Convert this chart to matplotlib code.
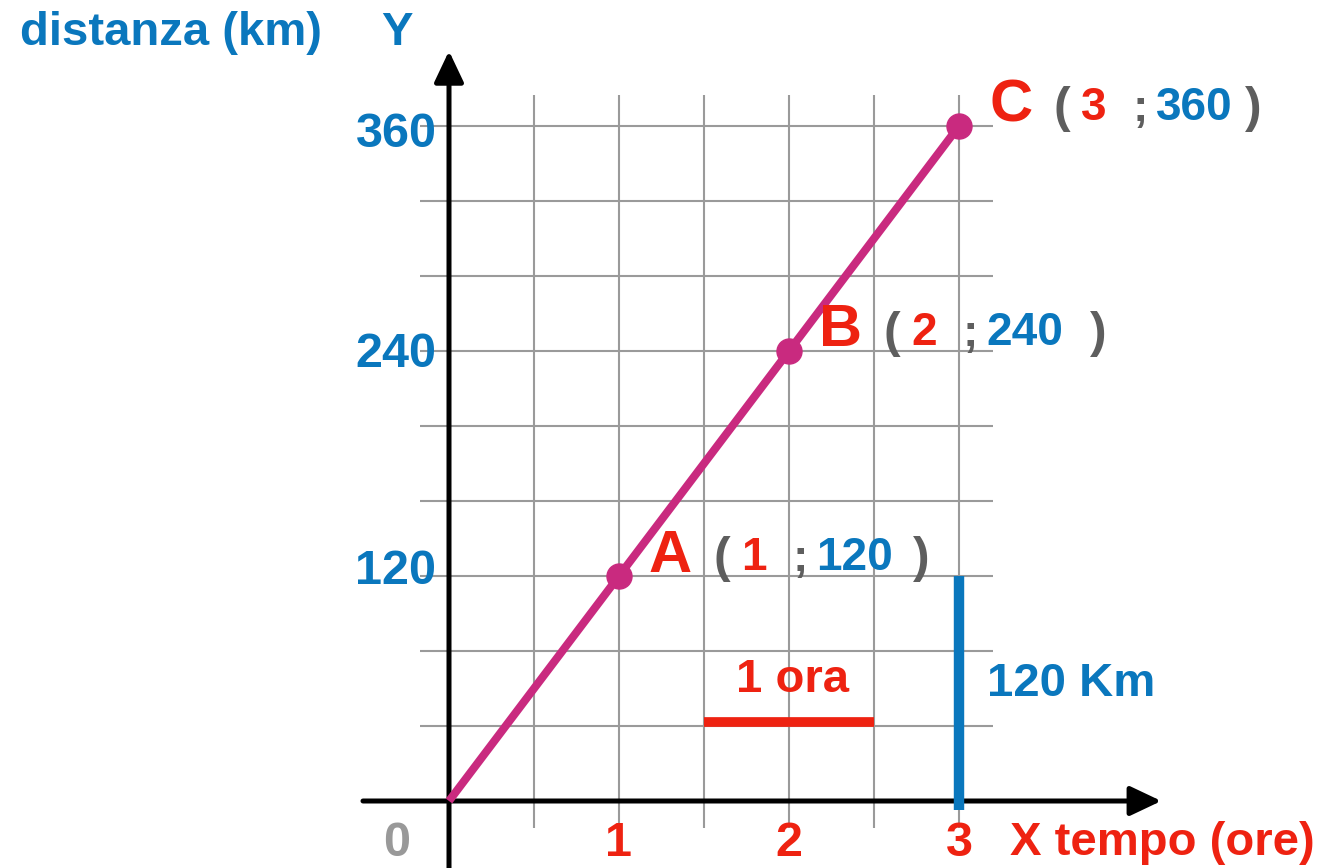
import numpy as np
import matplotlib
matplotlib.use('Agg')
import matplotlib.pyplot as plt

plt.rcParams['font.family'] = ['Liberation Sans', 'DejaVu Sans']
plt.rcParams['font.weight'] = 'bold'

# data
tempo = [0, 1, 2, 3]                 # ore
distanza = [0, 120, 240, 360]        # km
punti = ['', 'A', 'B', 'C']
x_ticks = [1, 2, 3]
y_ticks = [120, 240, 360]
grid_x = np.arange(0.5, 3.01, 0.5)
grid_y = np.arange(40, 361, 40)
ora = [1.5, 2.5]                     # segment "1 ora"
km = [0, 120]                        # segment "120 Km"

RED = '#ee2211'
BLUE = '#0a77bd'
MAG = '#c92a7f'
GREY = '#5e5e5e'

# pixel mapping: x_px = 449 + 170*x ; y_px = 801 - 1.875*y
W, H = 1323, 868
fig = plt.figure(figsize=(W / 100, H / 100), dpi=100)
ax = fig.add_axes([0, 0, 1, 1])
ax.set_xlim(-449 / 170, (W - 449) / 170)
ax.set_ylim((801 - H) / 1.875, 801 / 1.875)
ax.axis('off')

# grid
ax.vlines(grid_x, -14.4, 376.5, color='#9a9a9a', lw=1.5, zorder=1)
ax.hlines(grid_y, -0.17, 3.2, color='#9a9a9a', lw=1.5, zorder=1)

# axes with arrows
arrow = dict(arrowstyle='-|>,head_length=0.95,head_width=0.45',
             mutation_scale=20, lw=3.6, color='k', shrinkA=0, shrinkB=0)
ax.annotate('', xy=(4.19, 0), xytext=(-0.506, 0), arrowprops=arrow, zorder=2)
ax.annotate('', xy=(0, 400), xytext=(0, -36), arrowprops=arrow, zorder=2)

# segments
ax.plot(ora, [42, 42], color=RED, lw=7, solid_capstyle='butt', zorder=3)
ax.plot([3, 3], [-5, km[1]], color=BLUE, lw=7.5, solid_capstyle='butt', zorder=3)

# line and points
ax.plot(tempo, distanza, color=MAG, lw=5.8, solid_capstyle='butt', zorder=4)
ax.plot(tempo[1:], distanza[1:], 'o', color=MAG, ms=18, zorder=5)

def lab(txt, xy, off, color, size=35, ha='center'):
    ax.annotate(txt, xy=xy, xytext=off, textcoords='offset pixels',
                ha=ha, va='center', color=color, fontsize=size,
                fontweight='bold', zorder=6)

# tick labels
for t in x_ticks:
    lab(str(t), (t, 0), (0, -42), RED)
for d, dy in zip(y_ticks, [4, -4, -9]):
    lab(str(d), (0, d), (-53, dy), BLUE)
lab('0', (0, 0), (-52, -42), '#999999')
lab('X tempo (ore)', (3, 0), (51, -42), RED, size=34, ha='left')

# point labels
close_off = [0, 294, 301, 286]
for t, d, p, c in zip(tempo, distanza, punti, close_off):
    if not p:
        continue
    lab(p, (t, d), (30, 20), RED, size=43, ha='left')
    lab('(', (t, d), (94, 17), GREY, size=36, ha='left')
    lab(str(t), (t, d), (135, 18), RED, size=33)
    lab(';', (t, d), (181, 17), GREY, size=33)
    lab(str(d), (t, d), (197, 18), BLUE, size=33, ha='left')
    lab(')', (t, d), (c, 17), GREY, size=36, ha='left')

lab('1 ora', (np.mean(ora), 42), (4, 42), RED, size=34)
lab('120 Km', (3, 60), (28, 5), BLUE, size=34, ha='left')

fig.text(171 / W, 1 - 33 / H, 'distanza (km)', color=BLUE, fontsize=34,
         fontweight='bold', ha='center', va='center')
fig.text(397 / W, 1 - 33 / H, 'Y', color=BLUE, fontsize=34,
         fontweight='bold', ha='center', va='center')

fig.savefig('out.png', dpi=100)
